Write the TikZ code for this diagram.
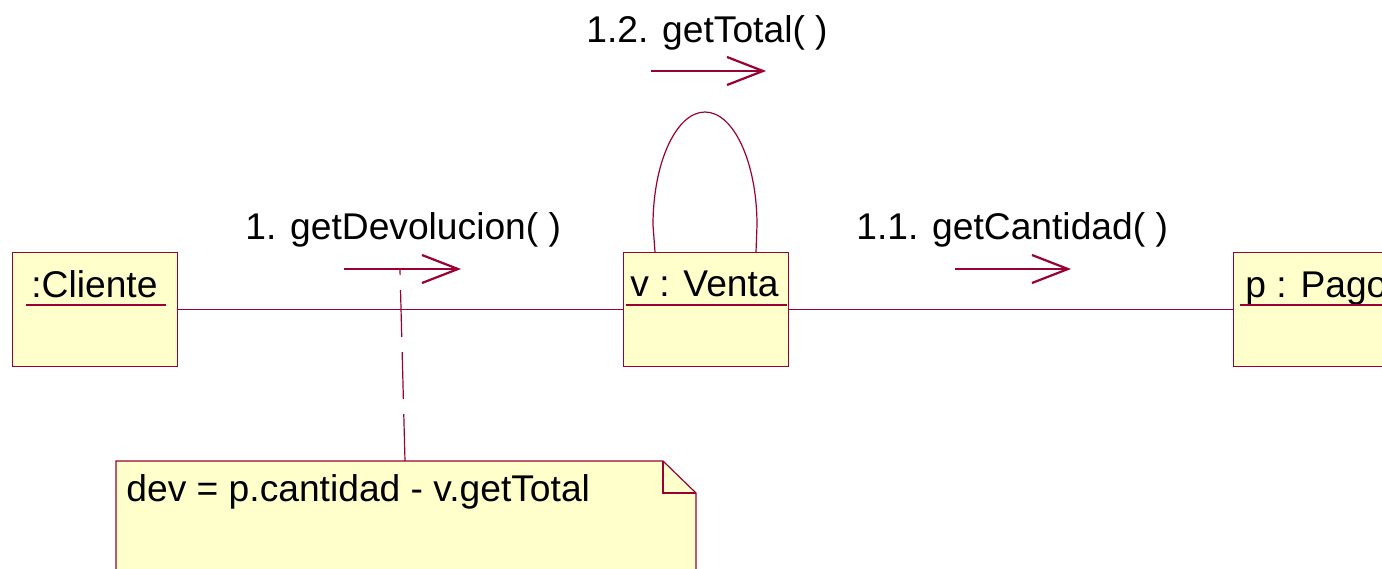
\documentclass[tikz,border=0pt]{standalone}
\usepackage{fontspec}
\setmainfont{Liberation Sans}
\usetikzlibrary{calc}
\definecolor{umlfill}{RGB}{255,255,204}
\definecolor{umlline}{RGB}{153,0,51}
\begin{document}
\begin{tikzpicture}[x=0.5pt,y=-0.5pt,
  objbox/.style={draw=umlline,fill=umlfill,line width=0.6pt,inner sep=0pt,anchor=north west},
  lbl/.style={inner sep=0pt,anchor=base west,font=\fontsize{18.6}{22}\selectfont},
  link/.style={draw=umlline,line width=0.6pt},
  msgline/.style={draw=umlline,line width=0.6pt},
  msghead/.style={draw=umlline,line width=1.1pt,line join=miter},
  anchorline/.style={draw=umlline,line width=0.6pt,dash pattern=on 23.5pt off 7.5pt}]
\useasboundingbox (0,0) rectangle (1382,568);
\clip (0,0) rectangle (1382,568);

% object boxes
\node[objbox,minimum width=82.5pt,minimum height=57pt] (cli) at (12,252) {};
\node[objbox,minimum width=82.5pt,minimum height=57pt] (ven) at (623,252) {};
\node[objbox,minimum width=95pt,minimum height=57pt] (pag) at (1233,252) {};

% object names with underlines
\node[lbl] (clit) at (31,297) {:Cliente};
\node[lbl] (vent) at (630,296) {v : Venta};
\node[lbl] (pagt) at (1245,297) {p : Pago};
\draw[link] (26,305) -- (166,305);
\draw[link] (626,305) -- (787,305);
\draw[link] (1240,305) -- (1425,305);

% links
\draw[link] (cli) -- (ven);
\draw[link] (ven) -- (pag);

% self link on Venta
\coordinate (sl1) at (655,252);
\coordinate (sl2) at (756,252);
\draw[link] (sl1) -- (653,225)
  .. controls (653,162.6) and (676.3,112) .. (705,112)
  .. controls (733.7,112) and (757,162.6) .. (757,225) -- (sl2);

% messages
\node[lbl] (m1) at (245,239) {1. getDevolucion( )};
\coordinate (m1s) at (344,269);
\coordinate (m1e) at (458,269);
\draw[msgline] (m1s) -- (m1e);
\draw[msghead] ($(m1e)+(-36,-14)$) -- (m1e) -- ($(m1e)+(-36,14)$);

\node[lbl] (m11) at (856,239) {1.1. getCantidad( )};
\coordinate (m11s) at (955,269);
\coordinate (m11e) at (1068,269);
\draw[msgline] (m11s) -- (m11e);
\draw[msghead] ($(m11e)+(-36,-14)$) -- (m11e) -- ($(m11e)+(-36,14)$);

\node[lbl] (m12) at (586,42) {1.2. getTotal( )};
\coordinate (m12s) at (651,71);
\coordinate (m12e) at (763,71);
\draw[msgline] (m12s) -- (m12e);
\draw[msghead] ($(m12e)+(-36,-14)$) -- (m12e) -- ($(m12e)+(-36,14)$);

% note
\draw[link,fill=umlfill] (116,461) -- (663,461) -- (696,493) -- (696,620) -- (116,620) -- cycle;
\draw[link] (663,461) -- (663,493) -- (696,493);
\node[lbl] (notet) at (126,501) {dev = p.cantidad - v.getTotal};
\coordinate (notetop) at (405,461);
\coordinate (msganchor) at (400,270);
\draw[anchorline] (notetop) -- (msganchor);
\end{tikzpicture}
\end{document}
